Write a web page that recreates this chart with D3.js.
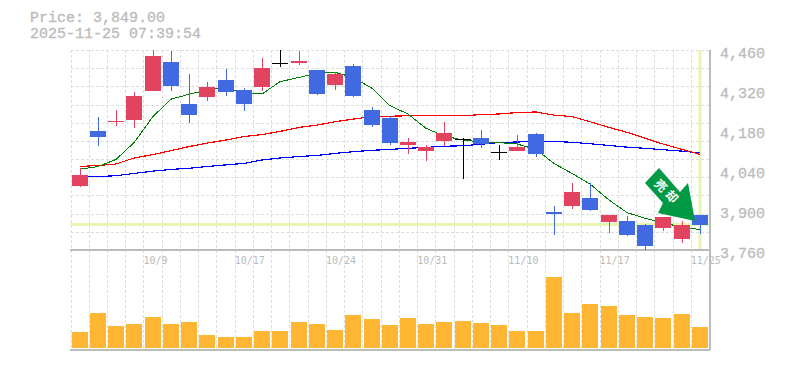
<!DOCTYPE html>
<html>

<head>
  <meta charset="utf-8">
  <script src="https://d3js.org/d3.v7.min.js"></script>
  <style>
    body {
      margin: 0;
      background: #fff;
    }

    text {
      font-family: "Liberation Mono", monospace;
      fill: #bbb;
    }

    .heavy {
      stroke: #bbb;
      stroke-width: 0.3;
    }

    .grid line {
      stroke: #ddd;
      stroke-dasharray: 3 2;
      shape-rendering: crispEdges;
    }

    .frame {
      stroke: #bbb;
      stroke-width: 1.5;
      shape-rendering: crispEdges;
    }

    .axis .domain,
    .axis line {
      display: none;
    }

    .ma {
      fill: none;
      shape-rendering: crispEdges;
    }
  </style>
</head>

<body>
  <svg id="chart" width="785" height="370"></svg>
  <script>
    const dates = ["10/3", "10/6", "10/7", "10/8", "10/9", "10/10", "10/14", "10/15", "10/16", "10/17",
      "10/20", "10/21", "10/22", "10/23", "10/24", "10/27", "10/28", "10/29", "10/30", "10/31",
      "11/4", "11/5", "11/6", "11/7", "11/10", "11/11", "11/12", "11/13", "11/14", "11/17",
      "11/18", "11/19", "11/20", "11/21", "11/25"];
    const dateTicks = ["10/9", "10/17", "10/24", "10/31", "11/10", "11/17", "11/25"];
    const priceTicks = [4460, 4320, 4180, 4040, 3900, 3760];

    const opens = [3984, 4176, 4208, 4215, 4317, 4418, 4271, 4295, 4355, 4320, 4330, 4416, 4414, 4390, 4337, 4404, 4250, 4222,
      4127, 4106, 4141, 4147, 4152, 4103, 4106, 4166, 3893, 3914, 3942, 3858, 3861, 3847, 3837, 3798, 3882];
    const highs = [4047, 4225, 4250, 4313, 4460, 4456, 4376, 4348, 4393, 4327, 4432, 4460, 4456, 4390, 4383, 4411, 4260, 4229,
      4152, 4127, 4208, 4152, 4180, 4127, 4162, 4169, 3914, 3994, 3994, 3882, 3879, 3851, 3875, 3861, 3882];
    const lows = [3980, 4124, 4194, 4187, 4317, 4317, 4204, 4281, 4299, 4246, 4317, 4400, 4407, 4302, 4320, 4295, 4190, 4127,
      4096, 4071, 4124, 4008, 4117, 4075, 4106, 4085, 3812, 3904, 3896, 3820, 3809, 3760, 3826, 3784, 3816];
    const closes = [4022, 4155, 4212, 4299, 4439, 4334, 4232, 4330, 4313, 4271, 4397, 4416, 4421, 4306, 4376, 4299, 4197, 4134,
      4138, 4120, 4170, 4147, 4131, 4103, 4120, 4096, 3886, 3963, 3900, 3882, 3812, 3774, 3875, 3847, 3849];

    const ma5 = [4043, 4052, 4077, 4136, 4227, 4288, 4305, 4320, 4329, 4308, 4306, 4349, 4364, 4378, 4382, 4364, 4326, 4265,
      4236, 4186, 4159, 4145, 4138, 4136, 4131, 4112, 4063, 4028, 3991, 3935, 3891, 3871, 3856, 3839, 3832];
    const ma25 = [4052, 4056, 4061, 4082, 4094, 4108, 4122, 4134, 4145, 4157, 4164, 4175, 4189, 4197, 4209, 4218, 4227, 4228,
      4230, 4230, 4230, 4230, 4234, 4236, 4241, 4243, 4232, 4227, 4209, 4189, 4172, 4151, 4131, 4112, 4095];
    const ma75 = [4015, 4017, 4020, 4028, 4036, 4042, 4046, 4052, 4058, 4063, 4075, 4082, 4087, 4091, 4098, 4104, 4109, 4112,
      4116, 4119, 4123, 4125, 4130, 4136, 4138, 4140, 4140, 4137, 4132, 4126, 4120, 4116, 4111, 4106, 4100];

    const volumes = [160, 350, 220, 240, 310, 240, 260, 130, 110, 110, 170, 170, 260, 240, 180, 330, 290, 230,
      300, 240, 260, 270, 250, 230, 170, 170, 710, 350, 440, 420, 330, 310, 300, 340, 210];

    const lastPrice = 3849;
    const priceLabel = "Price: 3,849.00";
    const timeLabel = "2025-11-25 07:39:54";
    const arrowLabel = "売却";

    const svg = d3.select("#chart");
    const x = d3.scaleBand().domain(dates).range([70.5, 709]);
    const y = d3.scaleLinear().domain([3760, 4460]).range([250, 50]);
    const yVol = d3.scaleLinear().domain([0, 1000]).range([348, 248]);
    const center = d => Math.round(x(d) + x.bandwidth() / 2);
    const gridValues = d3.range(0, 12).map(i => 3760 + i * 700 / 11);

    // gridlines, one per session, both panels
    const grid = svg.append("g").attr("class", "grid");
    grid.selectAll("line.v").data(dates).join("line")
      .attr("class", "v")
      .attr("x1", d => Math.round(x(d)) + 0.5).attr("x2", d => Math.round(x(d)) + 0.5)
      .attr("y1", 50).attr("y2", 350);
    grid.selectAll("line.h").data(gridValues).join("line")
      .attr("class", "h")
      .attr("x1", x.range()[0]).attr("x2", x.range()[1])
      .attr("y1", d => Math.round(y(d)) + 0.5).attr("y2", d => Math.round(y(d)) + 0.5);

    // current price crosshair
    svg.append("line")
      .attr("x1", x.range()[0]).attr("x2", x.range()[1])
      .attr("y1", y(lastPrice)).attr("y2", y(lastPrice))
      .style("stroke", "#e6f5b0").style("stroke-width", 3);
    svg.append("line")
      .attr("x1", center(dates[34])).attr("x2", center(dates[34]))
      .attr("y1", 50).attr("y2", 249)
      .style("stroke", "#e6f5b0").style("stroke-width", 3);

    // frame
    svg.append("line").attr("class", "frame").attr("x1", 70).attr("x2", 710).attr("y1", 250).attr("y2", 250);
    svg.append("line").attr("class", "frame").attr("x1", 70).attr("x2", 710).attr("y1", 350).attr("y2", 350);
    svg.append("line").attr("class", "frame").attr("x1", 710).attr("x2", 710).attr("y1", 50).attr("y2", 350);

    // volume
    svg.append("g").selectAll("rect").data(volumes).join("rect")
      .attr("x", (d, i) => center(dates[i]) - 8)
      .attr("width", 16)
      .attr("y", d => yVol(d))
      .attr("height", d => yVol(0) - yVol(d))
      .style("fill", "#ffb733");

    // moving averages sit behind the candles
    const line = d3.line().x((d, i) => center(dates[i])).y(d => y(d));
    svg.append("path").attr("class", "ma").attr("d", line(ma75)).style("stroke", "#0000ff").style("stroke-width", 1.2);
    svg.append("path").attr("class", "ma").attr("d", line(ma25)).style("stroke", "#ff0000").style("stroke-width", 1.2);
    svg.append("path").attr("class", "ma").attr("d", line(ma5)).style("stroke", "#008000").style("stroke-width", 1);

    // candles
    const candleColor = i => closes[i] > opens[i] ? "#e2445f" : closes[i] < opens[i] ? "#4169e1" : "#000";
    const candles = svg.append("g").selectAll("g").data(dates).join("g")
      .style("shape-rendering", "crispEdges");
    candles.append("line")
      .attr("x1", d => center(d) + 0.5).attr("x2", d => center(d) + 0.5)
      .attr("y1", (d, i) => y(highs[i])).attr("y2", (d, i) => y(lows[i]))
      .style("stroke", (d, i) => candleColor(i))
      .style("stroke-width", 1);
    candles.append("rect")
      .attr("x", d => center(d) - 8)
      .attr("width", 16)
      .attr("y", (d, i) => y(Math.max(opens[i], closes[i])))
      .attr("height", (d, i) => Math.max(1, Math.abs(y(opens[i]) - y(closes[i]))))
      .style("fill", (d, i) => candleColor(i));

    // signal arrow
    svg.append("polygon")
      .attr("points", "659,168 645,183 663,203 658,213 695,221 688,183 680,192")
      .style("fill", "#009944");
    svg.append("text")
      .attr("transform", "translate(667.5,192.5) rotate(45)")
      .attr("text-anchor", "middle")
      .attr("dy", "0.35em")
      .style("font-family", "'Noto Sans CJK JP'")
      .style("font-weight", "bold")
      .style("font-size", "12px")
      .style("letter-spacing", "3.5px")
      .style("fill", "#fff")
      .text(arrowLabel);

    // axes
    const yAxis = svg.append("g").attr("class", "axis")
      .attr("transform", "translate(720,3)")
      .call(d3.axisRight(y).tickValues(priceTicks).tickFormat(d3.format(",")).tickSize(0).tickPadding(0));
    yAxis.selectAll("text").attr("class", "heavy").style("font-size", "15px").attr("x", 0);

    const xAxis = svg.append("g").attr("class", "axis")
      .attr("transform", "translate(0,250)")
      .call(d3.axisBottom(x).tickValues(dateTicks).tickSize(0).tickPadding(0));
    xAxis.selectAll("text")
      .style("font-family", "'DejaVu Sans Mono'")
      .style("font-size", "10px")
      .style("text-anchor", "start")
      .attr("x", -x.bandwidth() / 2)
      .attr("y", 7);

    // header
    svg.append("text").attr("class", "heavy").attr("x", 30).attr("y", 22).style("font-size", "15px").text(priceLabel);
    svg.append("text").attr("class", "heavy").attr("x", 30).attr("y", 38).style("font-size", "15px").text(timeLabel);
  </script>
</body>

</html>
